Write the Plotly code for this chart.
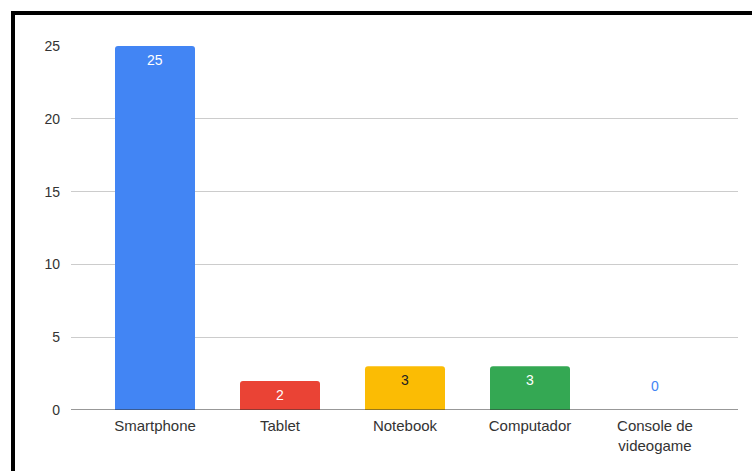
import plotly.graph_objects as go

categories = ["Smartphone", "Tablet", "Notebook", "Computador", "Console de<br>videogame"]
values = [25, 2, 3, 3, 0]
bar_colors = ["#4285F4", "#EA4335", "#FBBC04", "#34A853", "#4285F4"]
label_colors = ["#FFFFFF", "#FFFFFF", "#222222", "#FFFFFF", "#4285F4"]
y_ticks = [0, 5, 10, 15, 20, 25]

W, H = 752, 471
L, R, T, B = 71, 14, 46, 61
pw, ph = W - L - R, H - T - B


def px_x(p):
    return (p - L) / pw


def px_y(p):
    return (H - B - p) / ph


x_pos = list(range(len(categories)))

fig = go.Figure(
    go.Bar(
        x=x_pos,
        y=values,
        marker=dict(color=bar_colors, line=dict(width=0), cornerradius=3),
        width=0.64,
        cliponaxis=False,
        hoverinfo="skip",
    )
)

# value labels: inside the top of each bar, above the axis for empty bars
annotations = []
for xi, v, c in zip(x_pos, values, label_colors):
    annotations.append(dict(
        x=xi, y=v, xref="x", yref="y", text=str(v), showarrow=False,
        font=dict(color=c, size=14, family="Liberation Sans, Arial"),
        yanchor="middle", yshift=(24 if v == 0 else -14),
    ))

fig.update_layout(
    width=W,
    height=H,
    margin=dict(l=L, r=R, t=T, b=B),
    paper_bgcolor="white",
    plot_bgcolor="white",
    showlegend=False,
    font=dict(family="Liberation Sans, Arial", size=14, color="#444444"),
    annotations=annotations,
    xaxis=dict(
        tickmode="array",
        tickvals=x_pos,
        ticktext=categories,
        range=[-0.672, 4.664],
        showgrid=False,
        showline=False,
        zeroline=False,
        ticks="",
        ticklabelstandoff=5,
        tickfont=dict(size=15, color="#333333"),
    ),
    yaxis=dict(
        range=[0, 25],
        tickvals=y_ticks,
        showgrid=True,
        gridcolor="#CCCCCC",
        gridwidth=1,
        zeroline=False,
        showline=False,
        ticks="",
        ticklabelstandoff=10,
        tickfont=dict(size=14, color="#333333"),
    ),
    shapes=[
        # baseline
        dict(type="line", xref="paper", yref="y", x0=0, x1=1, y0=0, y1=0,
             line=dict(color="#333333", width=1.2), layer="above"),
        # black outer frame
        dict(type="rect", xref="paper", yref="paper",
             x0=px_x(13), x1=px_x(800), y0=px_y(13), y1=px_y(520),
             line=dict(color="black", width=4), fillcolor="rgba(0,0,0,0)",
             layer="above"),
    ],
)

fig.write_html("out.html")
